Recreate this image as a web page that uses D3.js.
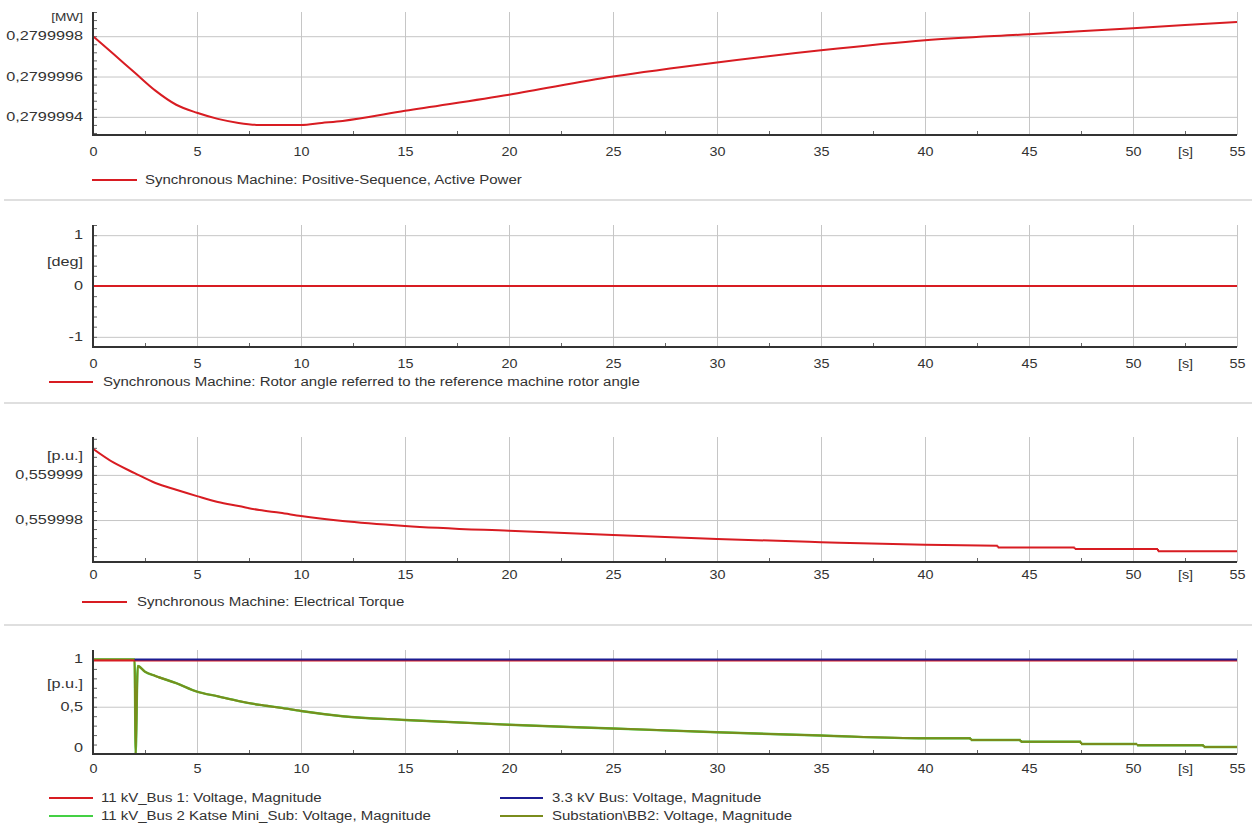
<!DOCTYPE html>
<html><head><meta charset="utf-8">
<script src="https://cdn.jsdelivr.net/npm/d3@7"></script>
<style>
body{margin:0;background:#fff}
svg{display:block}
</style>
</head><body>
<svg id="c" width="1256" height="829"></svg>
<script>
// ---------------- data ----------------
const timeTicks = [0,5,10,15,20,25,30,35,40,45,50,55];
const timeMinorTicks = [2.5,7.5,12.5,17.5,22.5,27.5,32.5,37.5,42.5,47.5,52.5];
const timeUnit = "[s]";
const timeUnitAt = 52.5;

// Panel 1: active power
const powerTime  = [0,1,2,3,4,5,6,7,8,9,10,11,12,15,20,25,30,35,40,45,50,55];
const powerValue = [0.27999980,0.27999971,0.27999962,0.27999953,0.27999946,0.27999942,0.27999939,0.27999937,0.27999936,0.27999936,0.27999936,0.27999937,0.27999938,0.27999943,0.27999951,0.27999960,0.27999967,0.27999973,0.27999978,0.27999981,0.27999984,0.27999987];
const powerTicks = [0.2799994,0.2799996,0.2799998];
const powerTickLabels = ["0,2799994","0,2799996","0,2799998"];
const powerUnit = "[MW]";
const powerLegend = "Synchronous Machine: Positive-Sequence, Active Power";

// Panel 2: rotor angle
const angleTime  = [0,55];
const angleValue = [0,0];
const angleTicks = [-1,0,1];
const angleTickLabels = ["-1","0","1"];
const angleUnit = "[deg]";
const angleLegend = "Synchronous Machine: Rotor angle referred to the reference machine rotor angle";

// Panel 3: electrical torque
const torqueTime  = [0,1,2,3,4,5,6,7,8,9,10,12,15,20,25,30,35,40,43.5,43.5,47.2,47.2,51.2,51.2,55];
const torqueValue = [0.55999958,0.55999927,0.55999904,0.55999882,0.55999867,0.55999853,0.55999840,0.55999831,0.55999822,0.55999816,0.55999809,0.55999798,0.55999787,0.55999776,0.55999767,0.55999758,0.55999751,0.55999745,0.55999743,0.55999739,0.55999739,0.55999736,0.55999736,0.55999731,0.55999731];
const torqueTicks = [0.559998,0.559999];
const torqueTickLabels = ["0,559998","0,559999"];
const torqueUnit = "[p.u.]";
const torqueLegend = "Synchronous Machine: Electrical Torque";

// Panel 4: bus voltages
const bus1Time  = [0,55];
const bus1Value = [0.99,0.99];
const bus33Time  = [2,55];
const bus33Value = [1,1];
const substationTime  = [0,2.0,2.05,2.15,2.5,3,4,5,6,7,8,9,10,12,15,20,25,30,35,40,42.2,42.2,44.6,44.6,47.5,47.5,50.2,50.2,53.4,53.4,55];
const substationValue = [1,1,0,0.93,0.87,0.825,0.75,0.66,0.61,0.56,0.52,0.49,0.455,0.40,0.36,0.31,0.27,0.23,0.195,0.166,0.166,0.148,0.148,0.130,0.130,0.106,0.106,0.092,0.092,0.074,0.074];
const katseTime  = substationTime;
const katseValue = substationValue;
const voltTicks = [0,0.5,1];
const voltTickLabels = ["0","0,5","1"];
const voltUnit = "[p.u.]";
const voltLegend = ["11 kV_Bus 1: Voltage, Magnitude","11 kV_Bus 2 Katse Mini_Sub: Voltage, Magnitude","3.3 kV Bus: Voltage, Magnitude","Substation\\BB2: Voltage, Magnitude"];

// ---------------- styles ----------------
const RED = "#d81c22", BLUE = "#1c1c92", GREEN = "#44d044", OLIVE = "#7a8c1c";
const FONT = "'Liberation Sans', Arial, sans-serif";
const FS = 12.5, SX = 1.25, SXY = 1.3, SXX = 1.15;
const TEXT = "#333";
const X0 = 93, X1 = 1237;

const x = d3.scaleLinear().domain([0,55]).range([X0, X1]);
const svg = d3.select("#c");

const panels = [
  {top:12, bottom:135, domain:[0.27999931,0.27999992], minorStep:4e-8,
   ticks:powerTicks, labels:powerTickLabels, unit:powerUnit, unitY:17, unitFS:10.5,
   xLabelY:151,
   series:[{t:powerTime,v:powerValue,c:RED,w:2}],
   legend:[{x1:92,x2:137,tx:145,y:180,text:powerLegend,c:RED}], sep:200},
  {top:225, bottom:347, domain:[-1.2,1.2], minorStep:0.2,
   ticks:angleTicks, labels:angleTickLabels, unit:angleUnit, unitY:261, unitFS:FS,
   xLabelY:363,
   series:[{t:angleTime,v:angleValue,c:RED,w:2}],
   legend:[{x1:49,x2:93,tx:103,y:382,text:angleLegend,c:RED}], sep:403},
  {top:437, bottom:562, domain:[0.55999707,0.55999984], minorStep:2e-7,
   ticks:torqueTicks, labels:torqueTickLabels, unit:torqueUnit, unitY:455, unitFS:FS,
   xLabelY:574,
   series:[{t:torqueTime,v:torqueValue,c:RED,w:2}],
   legend:[{x1:82,x2:127,tx:137,y:602,text:torqueLegend,c:RED}], sep:625},
  {top:650, bottom:754, domain:[0,1.1], minorStep:0.1,
   ticks:voltTicks, labels:voltTickLabels, unit:voltUnit, unitY:683, unitFS:FS,
   xLabelY:768,
   series:[
     {t:katseTime,v:katseValue,c:GREEN,w:2.4},
     {t:substationTime,v:substationValue,c:OLIVE,w:2},
     {t:bus1Time,v:bus1Value,c:RED,w:2},
     {t:bus33Time,v:bus33Value,c:BLUE,w:2}],
   legend:[
     {x1:49,x2:93,tx:101,y:798,text:voltLegend[0],c:RED},
     {x1:49,x2:93,tx:101,y:816,text:voltLegend[1],c:GREEN},
     {x1:500,x2:543,tx:552,y:798,text:voltLegend[2],c:BLUE},
     {x1:500,x2:543,tx:552,y:816,text:voltLegend[3],c:OLIVE}], sep:null}
];

function styleAxisText(a){
  a.attr("font-family", FONT).attr("font-size", FS).attr("color", TEXT);
  a.selectAll("text").attr("fill", TEXT);
}

// split a series into smooth runs and vertical step jumps (equal times)
function runs(pts){
  const out = [];
  let cur = [pts[0]];
  for (let i = 1; i < pts.length; i++) {
    if (pts[i][0] === pts[i-1][0]) {
      out.push({pts:cur, smooth:true});
      out.push({pts:[pts[i-1], pts[i]], smooth:false});
      cur = [pts[i]];
    } else cur.push(pts[i]);
  }
  out.push({pts:cur, smooth:true});
  return out;
}

panels.forEach((p, pi) => {
  const y = d3.scaleLinear().domain(p.domain).range([p.bottom, p.top]);
  const g = svg.append("g");

  // vertical gridlines
  g.append("g").attr("transform", `translate(0,${p.bottom})`)
    .call(d3.axisBottom(x).tickValues(timeTicks.filter(d => d > 0)).tickSize(-(p.bottom - p.top)).tickFormat(""))
    .call(a => { a.select(".domain").remove(); a.selectAll("line").attr("stroke", "#c6c6c6").attr("stroke-width", 1); });

  // horizontal gridlines
  g.append("g").attr("transform", `translate(${X0},0)`)
    .call(d3.axisLeft(y).tickValues(p.ticks).tickSize(-(X1 - X0)).tickFormat(""))
    .call(a => { a.select(".domain").remove(); a.selectAll("line").attr("stroke", "#c6c6c6").attr("stroke-width", 1); });

  // minor y ticks
  const start = Math.ceil(p.domain[0] / p.minorStep - 1e-6) * p.minorStep;
  const minor = d3.range(start, p.domain[1], p.minorStep);
  g.append("g").attr("transform", `translate(${X0},0)`)
    .call(d3.axisLeft(y).tickValues(minor).tickSize(-4).tickFormat(""))
    .call(a => { a.select(".domain").remove(); a.selectAll("line").attr("stroke", "#666").attr("stroke-width", 1); });

  // minor x ticks
  g.append("g").attr("transform", `translate(0,${p.bottom})`)
    .call(d3.axisBottom(x).tickValues(timeMinorTicks).tickSize(-4).tickFormat(""))
    .call(a => { a.select(".domain").remove(); a.selectAll("line").attr("stroke", "#666").attr("stroke-width", 1); });

  // data lines (clipped)
  const clipId = "clip" + pi;
  svg.append("clipPath").attr("id", clipId).append("rect")
    .attr("x", X0).attr("y", p.top - 2).attr("width", X1 - X0 + 2).attr("height", p.bottom - p.top + 3);
  const smoothLine = d3.line().x(d => x(d[0])).y(d => y(d[1])).curve(d3.curveMonotoneX);
  const straightLine = d3.line().x(d => x(d[0])).y(d => y(d[1]));
  const dl = g.append("g").attr("clip-path", `url(#${clipId})`);
  p.series.forEach(s => {
    const pts = s.t.map((t, i) => [t, s.v[i]]);
    const d = runs(pts).map(r => (r.smooth ? smoothLine : straightLine)(r.pts)).join("");
    dl.append("path").attr("d", d)
      .attr("fill", "none").attr("stroke", s.c).attr("stroke-width", s.w)
      .attr("stroke-linejoin", "round");
  });

  // axis lines
  g.append("line").attr("x1", X0).attr("x2", X0).attr("y1", p.top).attr("y2", p.bottom + 1)
    .attr("stroke", "#333").attr("stroke-width", 2);
  g.append("line").attr("x1", X0 - 1).attr("x2", X1).attr("y1", p.bottom).attr("y2", p.bottom)
    .attr("stroke", "#333").attr("stroke-width", 2);

  // x labels
  const xl = g.append("g").attr("transform", `translate(0,${p.xLabelY})`)
    .call(d3.axisBottom(x).tickValues([...timeTicks, timeUnitAt]).tickSize(0).tickPadding(0)
      .tickFormat(d => d === timeUnitAt ? timeUnit : String(d)));
  xl.select(".domain").remove();
  styleAxisText(xl);
  xl.selectAll("text").attr("y", 0).attr("dy", "0.36em").attr("transform", `scale(${SXX},1)`);

  // y labels
  const yl = g.append("g").attr("transform", `translate(${X0},0)`)
    .call(d3.axisLeft(y).tickValues(p.ticks).tickSize(0).tickPadding(10 / SXY)
      .tickFormat((d, i) => p.labels[i]));
  yl.select(".domain").remove();
  styleAxisText(yl);
  yl.selectAll(".tick").attr("transform", d => `translate(0,${Math.min(y(d), p.bottom - 6)})`);
  yl.selectAll("text").attr("transform", `scale(${SXY},1)`);

  // unit label
  g.append("text").attr("transform", `translate(${X0 - 10},${p.unitY}) scale(${SXY},1)`)
    .attr("text-anchor", "end").attr("dy", "0.36em")
    .attr("font-family", FONT).attr("font-size", p.unitFS).attr("fill", TEXT).text(p.unit);

  // legend
  p.legend.forEach(L => {
    g.append("line").attr("x1", L.x1).attr("x2", L.x2).attr("y1", L.y).attr("y2", L.y)
      .attr("stroke", L.c).attr("stroke-width", 2);
    g.append("text").attr("transform", `translate(${L.tx},${L.y}) scale(${SX},1)`)
      .attr("dy", "0.36em").attr("font-family", FONT).attr("font-size", FS - 0.5).attr("fill", TEXT)
      .text(L.text);
  });

  // separator
  if (p.sep !== null) {
    g.append("line").attr("x1", 4).attr("x2", 1252).attr("y1", p.sep).attr("y2", p.sep)
      .attr("stroke", "#d4d4d4").attr("stroke-width", 1.5);
  }
});
</script>
</body></html>
